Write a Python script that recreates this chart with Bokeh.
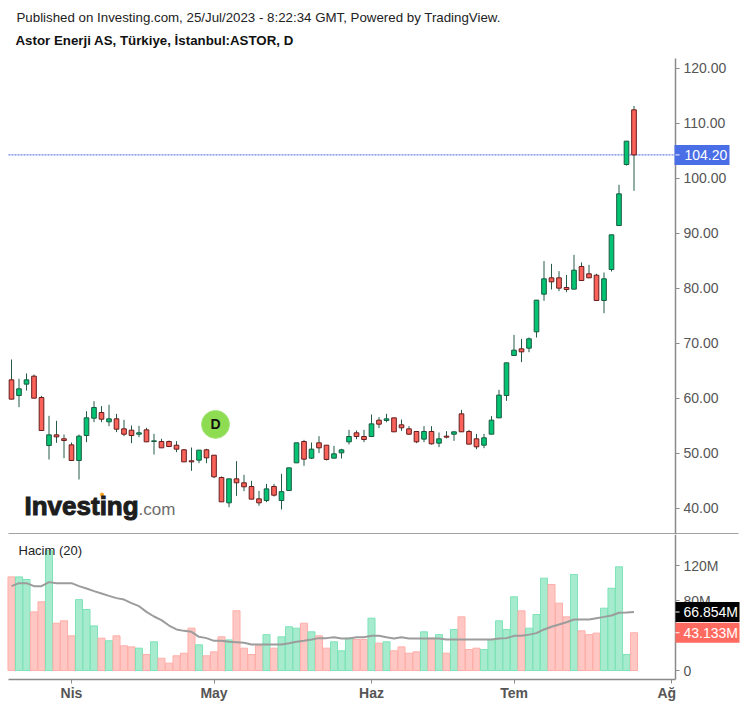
from bokeh.plotting import figure
from bokeh.layouts import column
from bokeh.models import ColumnDataSource, Label, FixedTicker, LinearAxis
from bokeh.embed import file_html
from bokeh.resources import INLINE

opens = [63.30,60.45,62.52,63.97,60.09,51.36,53.30,52.58,51.48,48.64,53.18,56.33,57.36,55.67,56.21,54.39,54.15,53.42,54.21,52.09,52.09,52.09,51.42,50.58,48.58,48.7,50.58,49.6,45.55,40.94,45.3,
 44.58,43.91,41.67,41.36,43.91,41.36,43.18,48.21,52.09,49.06,51.85,51.42,49.06,50.03,52.03,53.67,53.0,53.0,55.97,55.91,56.39,55.12,54.39,53.91,52.52,53.91,51.79,53.06,
 53.42,57.12,53.91,52.58,51.42,53.42,56.39,60.45,67.73,68.94,69.06,72.03,78.88,81.85,81.85,80.09,79.79,83.91,82.58,82.33,77.73,83.36,91.36,102.45,112.39]
highs = [67.0,63.49,64.46,64.27,60.39,56.76,55.85,53.36,51.91,53.36,57.6,59.42,58.52,58.76,57.12,56.03,55.0,54.94,54.58,53.48,52.58,52.27,52.15,50.7,51.0,50.52,50.76,49.6,45.73,45.3,48.52,
 46.03,44.94,43.12,44.39,44.39,46.21,47.3,51.85,52.39,51.91,53.06,51.42,51.3,50.76,54.21,54.09,54.21,57.0,56.52,57.12,56.39,56.09,54.88,53.91,54.88,54.88,53.73,53.97,
 53.85,57.85,54.21,53.48,53.48,56.7,61.48,66.39,71.48,70.76,71.0,77.79,84.88,84.39,83.06,82.39,86.03,84.64,84.21,82.58,82.82,89.67,98.76,106.7,113.1]
lows = [59.79,58.33,61.36,59.97,54.09,48.82,51.85,49.06,48.64,45.18,51.97,55.6,55.6,54.88,53.79,53.06,51.79,52.88,52.03,49.73,50.94,51.06,50.15,48.39,46.76,48.15,48.15,45.42,41.12,40.15,42.21,
 43.06,41.61,40.39,41.06,42.09,39.73,43.18,48.21,47.67,48.94,49.97,48.64,49.06,49.0,51.55,52.52,51.97,53.0,54.52,55.6,53.85,54.03,53.3,51.79,51.97,51.55,51.06,52.64,
 52.21,53.85,51.61,50.7,50.88,53.42,56.39,59.48,67.73,66.52,68.33,71.0,77.67,79.73,79.42,79.24,79.79,81.36,81.85,77.73,75.42,83.0,91.36,102.27,97.67]
closes = [59.79,61.67,63.30,59.97,54.09,53.30,52.94,52.27,48.64,53.06,56.39,58.27,56.15,56.21,54.33,53.42,53.18,53.67,52.03,52.21,50.94,51.18,50.7,48.39,48.39,50.52,49.12,45.67,41.12,45.3,44.58,
 43.85,41.61,40.94,43.48,42.33,42.97,47.3,51.85,48.88,50.7,50.94,48.82,49.85,50.57,53.0,53.0,52.45,55.3,55.24,56.21,53.85,54.58,53.42,52.03,53.91,51.67,52.58,52.88,
 53.85,53.85,51.61,51.12,52.76,55.97,60.52,66.39,68.7,68.39,70.76,77.79,81.67,81.12,79.97,79.73,83.24,81.36,81.85,77.73,81.67,89.67,97.12,106.7,104.2]
volumes = [107,107,104,67,78.5,137,54,56.8,39.6,81,69.7,51,37,34,39.6,28.2,27,25.5,18.3,32.8,14,8.4,16.8,19.8,48.4,29.3,16.8,21.3,38.5,35,68.2,
 25.5,18.3,28.2,41,25.5,38.5,50,48.4,54,44.2,39.6,25.5,32.8,22.5,37,35.4,35.4,59.8,31.2,32.8,22.5,27,19.8,21.3,44.2,37,41,19.8,46.9,61.3,24,25.5,24,
 35.4,56.8,46.9,84.2,68.2,48.4,64,105.5,98.3,77,61.3,109.7,45.3,41,42.7,71.2,94,118.5,18.3,43.133]
volume_ma = [96.4,99.8,99.8,96.4,96.4,101,99.8,99.8,99.8,96.4,93.7,90.7,88,85.3,82.7,81.1,77,73.5,67,61.7,57.5,51.4,46.9,45.3,44.2,38.5,37,33.9,33.9,32.8,32.4,
 31.6,29.7,29.7,29.7,29.7,29.7,31.2,32.8,33.9,35.4,37,37,38,36.6,36.6,38,38,39.6,39.6,38,36.6,38,36.6,36.6,36.6,36.6,36.6,35.4,35.4,35.4,35.4,35.4,35.4,
 35.4,36.6,37,39.6,39.6,41,42.7,46.9,50,52.6,55.2,58.3,58.3,58.3,59.8,61.3,62.9,66,66.3,66.854]
month_ticks = [8, 27, 48, 67, 88]
month_labels = ["Nis", "May", "Haz", "Tem", " "]
price_ticks = [40, 50, 60, 70, 80, 90, 100, 110, 120]
volume_ticks = [0, 40, 80, 120]
volume_tick_labels = ["0", "40M", "80M", "120M"]
last_price = 104.20
last_volume = 43.133
last_ma = 66.854
event_index = 27.2
event_price = 55.2

FONT = "Liberation Sans"
GREEN, GREEN_EDGE = "#03c473", "#175a40"
RED, RED_EDGE = "#fb6259", "#651c1c"
WICK = "#255a48"
AXIS = "#8a8a8a"
TXT = "#555555"

# layout helpers: page pixel -> each panel's data coordinates
def xd(px):
    return (px - 11) / 7.5
def yp(py):
    return 120 - (py - 67.5) / 5.5
def yv(py):
    return (670 - py) / 0.875

x = list(range(len(opens)))
colors = [GREEN if c >= o else RED for o, c in zip(opens, closes)]
edges = [GREEN_EDGE if c >= o else RED_EDGE for o, c in zip(opens, closes)]
vfill = ["#a6ebcd" if c >= o else "#ffc7c3" for o, c in zip(opens, closes)]
vedge = ["#7ee3b8" if c >= o else "#ffaea9" for o, c in zip(opens, closes)]
src = ColumnDataSource(dict(x=x, o=opens, h=highs, l=lows, c=closes,
                            top=[max(a, b) for a, b in zip(opens, closes)],
                            bot=[min(a, b) for a, b in zip(opens, closes)],
                            color=colors, edge=edges, v=volumes, ma=volume_ma,
                            vfill=vfill, vedge=vedge))

XR = (xd(0), xd(746))
AX_X = xd(675)
PANEL_H1 = 534
PANEL_H2 = 173

common = dict(width=746, output_backend="svg", toolbar_location=None, x_range=XR,
              x_axis_location=None, y_axis_location=None, min_border=0,
              min_border_left=0, min_border_right=0, min_border_top=0, min_border_bottom=0,
              outline_line_color=None, background_fill_color="white")

p1 = figure(height=PANEL_H1, y_range=(yp(PANEL_H1), yp(0)), **common)
p1.xgrid.visible = False
p1.ygrid.visible = False

ax1 = LinearAxis(ticker=FixedTicker(ticks=price_ticks), fixed_location=AX_X, bounds=(yp(PANEL_H1), yp(58)))
ax1.major_label_overrides = {t: f"{t:.2f}" for t in price_ticks}
ax1.axis_line_color = AXIS
ax1.axis_line_width = 1.5
ax1.major_tick_line_color = AXIS
ax1.major_tick_line_width = 1
ax1.major_tick_in = 0
ax1.major_tick_out = 4
ax1.minor_tick_line_color = None
ax1.major_label_standoff = 4
ax1.major_label_text_font = FONT
ax1.major_label_text_font_size = "14px"
ax1.major_label_text_color = TXT
p1.add_layout(ax1, "right")

p1.segment([xd(8)], [last_price], [AX_X], [last_price], line_color="#3f63e0", line_width=1, line_dash="2 1")
p1.segment("x", "h", "x", "l", source=src, line_color=WICK, line_width=1)
p1.vbar("x", 0.62, "top", "bot", source=src, fill_color="color", line_color="edge", line_width=1)
p1.segment([xd(8)], [yp(534)+0.09], [xd(738)], [yp(534)+0.09], line_color="#444444", line_width=1)

p1.scatter([event_index], [event_price], size=28, marker="circle",
           fill_color="#8edc52", line_color="#a8e47c", line_width=1)
p1.add_layout(Label(x=event_index, y=event_price, text="D", text_align="center", text_baseline="middle",
                    text_font=FONT, text_font_style="bold", text_font_size="14px", text_color="#111111"))

p1.add_layout(Label(x=xd(24), y=yp(505), text="Investing", text_font=FONT, text_font_style="bold",
                    text_font_size="26px", text_color="#1d1d1d", text_baseline="alphabetic",
                    text_outline_color="#1d1d1d"))
p1.add_layout(Label(x=xd(138), y=yp(509), text=".com", text_font=FONT, text_baseline="alphabetic",
                    text_font_size="17px", text_color="#6d6d6d"))
p1.scatter([xd(101.5)], [yp(494)], size=4, marker="circle", fill_color="#f7a01d", line_color=None, level="annotation")

p1.add_layout(Label(x=xd(16), y=yp(17), text="Published on Investing.com, 25/Jul/2023 - 8:22:34 GMT, Powered by TradingView.",
                    text_font=FONT, text_font_size="13.3px", text_color="#222222", text_baseline="middle"))
p1.add_layout(Label(x=xd(15), y=yp(40), text="Astor Enerji AS, Türkiye, İstanbul:ASTOR, D",
                    text_font=FONT, text_font_style="bold", text_font_size="13.3px",
                    text_color="#111111", text_baseline="middle"))

p1.rect([xd(701.5)], [last_price], width=55, height=20, width_units="screen", height_units="screen",
        fill_color="#4a6ee6", line_color=None, level="annotation")
p1.segment([AX_X], [last_price], [xd(679)], [last_price], line_color="white", line_width=1, level="annotation")
p1.add_layout(Label(x=xd(684), y=last_price, text=f"{last_price:.2f}", text_font=FONT,
                    text_font_size="14px", text_color="white", text_baseline="middle"))

p2 = figure(height=PANEL_H2, y_range=(yv(534 + PANEL_H2), yv(534)), **common)
p2.xgrid.visible = False
p2.ygrid.visible = False
p2.vbar("x", 0.94, "v", 0, source=src, fill_color="vfill", line_color="vedge", line_width=1)
p2.line("x", "ma", source=src, line_color="#9c9c9c", line_width=2)

ax2 = LinearAxis(ticker=FixedTicker(ticks=volume_ticks), fixed_location=AX_X, bounds=(yv(679), yv(534)))
ax2.major_label_overrides = dict(zip(volume_ticks, volume_tick_labels))
ax3 = LinearAxis(ticker=FixedTicker(ticks=month_ticks), fixed_location=yv(679), bounds=(xd(8), AX_X))
ax3.major_label_overrides = dict(zip(month_ticks, month_labels))
for a in (ax2, ax3):
    a.axis_line_color = AXIS
    a.axis_line_width = 1.5
    a.major_tick_line_color = AXIS
    a.major_tick_in = 0
    a.major_tick_out = 4
    a.minor_tick_line_color = None
    a.major_label_text_font = FONT
    a.major_label_text_font_size = "14px"
    a.major_label_text_color = TXT
ax2.major_label_standoff = 4
ax3.major_label_standoff = 1
ax3.major_label_text_font_style = "bold"
p2.add_layout(ax2, "right")
p2.add_layout(ax3, "below")

p2.add_layout(Label(x=xd(18), y=yv(550), text="Hacim (20)", text_font=FONT,
                    text_font_size="13px", text_color="#222222", text_baseline="middle"))
p2.rect([xd(707)], [last_ma], width=64, height=20, width_units="screen", height_units="screen",
        fill_color="#000000", line_color=None, level="annotation")
p2.rect([xd(707)], [last_volume], width=64, height=20, width_units="screen", height_units="screen",
        fill_color="#ff6a60", line_color=None, level="annotation")
p2.segment([AX_X, AX_X], [last_ma, last_volume], [xd(679), xd(679)], [last_ma, last_volume],
           line_color="white", line_width=1, level="annotation")
p2.add_layout(Label(x=xd(683), y=last_ma, text=f"{last_ma:.3f}M", text_font=FONT,
                    text_font_size="14px", text_color="white", text_baseline="middle"))
p2.add_layout(Label(x=xd(683), y=last_volume, text=f"{last_volume:.3f}M", text_font=FONT,
                    text_font_size="14px", text_color="white", text_baseline="middle"))
p2.add_layout(Label(x=xd(657), y=yv(692), text="Ağ", text_font=FONT, text_font_style="bold",
                    text_font_size="14px", text_color=TXT, text_baseline="middle"))

page = column(p1, p2, spacing=0)
open("out.html", "w").write(file_html(page, INLINE))
